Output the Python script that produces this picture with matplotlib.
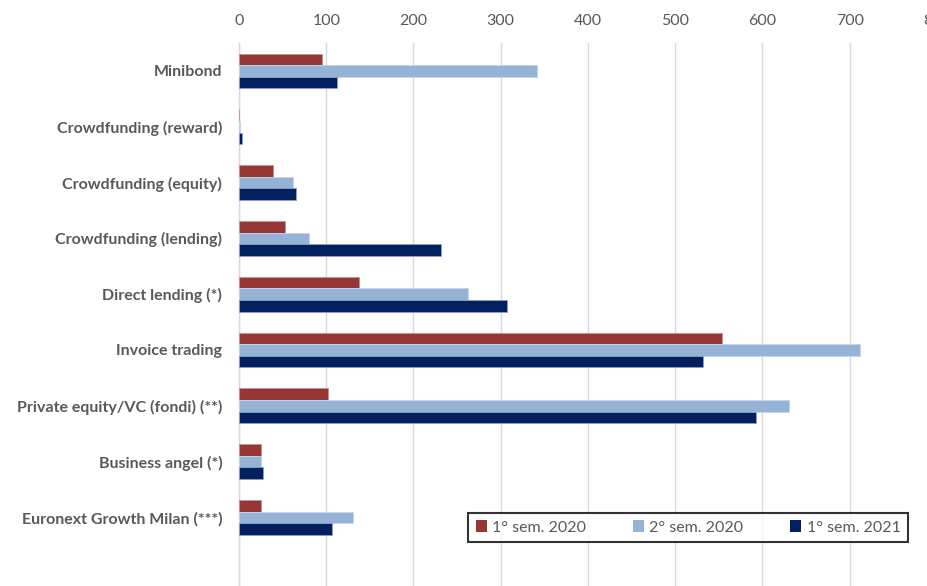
import matplotlib
matplotlib.use("Agg")
import matplotlib.pyplot as plt
from matplotlib.patches import Patch
import numpy as np

plt.rcParams['font.family'] = ['Lato', 'DejaVu Sans']

categories = [
    "Minibond",
    "Crowdfunding (reward)",
    "Crowdfunding (equity)",
    "Crowdfunding (lending)",
    "Direct lending (*)",
    "Invoice trading",
    "Private equity/VC (fondi) (**)",
    "Business angel (*)",
    "Euronext Growth Milan (***)",
]
sem1_2020 = [95, 0.5, 38.5, 52.5, 138, 554, 101.5, 25, 25]
sem2_2020 = [342, 1.5, 62, 80, 263, 711.5, 630, 25, 131]
sem1_2021 = [112, 4, 65, 231, 307.5, 531.5, 592, 28, 106.5]

series_names = ["1° sem. 2020", "2° sem. 2020", "1° sem. 2021"]
colors = ["#953735", "#95B3D7", "#002060"]
edge_colors = ["#c9908f", "#c6d6ea", "#8ea0c4"]
xticks = [0, 100, 200, 300, 400, 500, 600, 700, 800]

W, H = 928, 586
fig = plt.figure(figsize=(W / 100, H / 100), dpi=100)
# plot area runs past the right and bottom edges of the picture
left, right, top, bottom = 239, 937, 43, 586
ax = fig.add_axes([left / W, 0, (right - left) / W, (H - top) / H])

y = np.arange(len(categories))
h = 0.208
for i, (vals, c, ec) in enumerate(zip([sem1_2020, sem2_2020, sem1_2021], colors, edge_colors)):
    ax.barh(y + (i - 1) * h, vals, height=h, color=c, edgecolor=ec,
            linewidth=0.6, zorder=3)

spacing = 55.8
ax.set_ylim((bottom - 71) / spacing, -28 / spacing)
ax.set_xlim(0, 800)
ax.set_xticks(xticks)
ax.xaxis.tick_top()
ax.tick_params(axis='x', length=0, pad=11, labelsize=11.5, labelcolor="#595959")
ax.tick_params(axis='y', length=0, pad=12)
ax.set_yticks(y)
ax.set_yticklabels(categories, fontsize=11.5, fontweight='bold', color="#595959")

ax.grid(axis='x', color="#d9d9d9", linewidth=1, zorder=0)
for s in ["top", "right", "bottom"]:
    ax.spines[s].set_visible(False)
ax.spines["left"].set_color("#d9d9d9")
ax.spines["left"].set_linewidth(1)

handles = [Patch(facecolor=c, edgecolor="none") for c in colors]
leg = fig.legend(handles, series_names, loc='center',
                 bbox_to_anchor=(688 / W, 1 - 527.5 / H), ncol=3,
                 frameon=True, fancybox=False, fontsize=11.5,
                 handlelength=0.7, handleheight=0.7, handletextpad=0.35,
                 columnspacing=2.9, borderpad=0.45, borderaxespad=0)
leg.get_frame().set_edgecolor("black")
leg.get_frame().set_linewidth(1.5)
for t in leg.get_texts():
    t.set_color("#595959")

fig.savefig("out.png", dpi=100)
